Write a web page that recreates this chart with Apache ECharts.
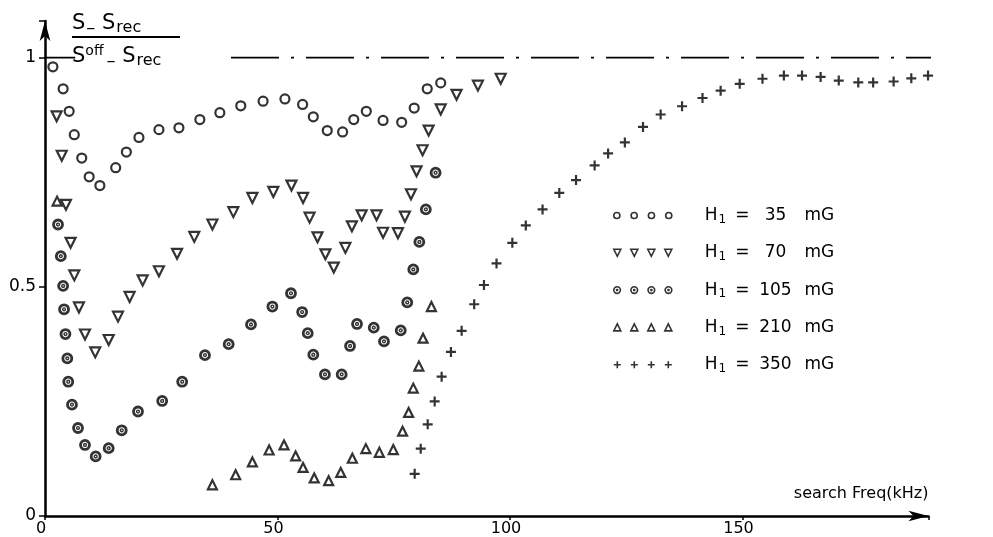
<!DOCTYPE html>
<html><head><meta charset="utf-8">
<script src="https://cdn.jsdelivr.net/npm/echarts@6/dist/echarts.min.js"></script>
<style>html,body{margin:0;padding:0;background:#fff}#c{width:993px;height:537px}</style>
</head><body><div id="c"></div>
<script>
// ---- data (search frequency kHz, normalised signal) ----
const xTickValues = [0, 50, 100, 150];
const yTickValues = [0, 0.5, 1];
const legendFields = ['35', '70', '105', '210', '350'];
const seriesNames = ['H1 = 35 mG', 'H1 = 70 mG', 'H1 = 105 mG', 'H1 = 210 mG', 'H1 = 350 mG'];

const h35 = [[1.7,0.98],[3.9,0.932],[5.2,0.883],[6.3,0.832],[7.9,0.781],[9.5,0.74],[11.8,0.721],[15.2,0.76],[17.5,0.794],[20.2,0.826],[24.5,0.843],[28.8,0.847],[33.3,0.865],[37.6,0.88],[42.1,0.895],[46.9,0.905],[51.6,0.91],[55.4,0.898],[57.7,0.871],[60.7,0.841],[64.0,0.838],[66.4,0.865],[69.1,0.883],[72.7,0.863],[76.7,0.859],[79.4,0.89],[82.2,0.932],[85.1,0.945]];

const h70 = [[2.5,0.872],[3.6,0.786],[4.5,0.679],[5.5,0.596],[6.3,0.525],[7.3,0.455],[8.6,0.396],[10.8,0.357],[13.7,0.384],[15.7,0.435],[18.2,0.478],[21.0,0.514],[24.5,0.534],[28.4,0.572],[32.1,0.609],[36.0,0.636],[40.5,0.663],[44.6,0.694],[49.1,0.707],[53.0,0.721],[55.5,0.694],[56.9,0.651],[58.6,0.608],[60.3,0.571],[62.1,0.542],[64.6,0.585],[66.0,0.632],[68.1,0.656],[71.3,0.656],[72.7,0.618],[75.9,0.617],[77.4,0.653],[78.7,0.702],[79.9,0.752],[81.2,0.798],[82.5,0.841],[85.1,0.887],[88.5,0.919],[93.1,0.939],[98.0,0.954]];

const h105 = [[2.8,0.636],[3.4,0.567],[3.9,0.502],[4.1,0.451],[4.4,0.397],[4.8,0.344],[5.0,0.293],[5.8,0.243],[7.1,0.192],[8.6,0.155],[10.9,0.13],[13.7,0.148],[16.5,0.187],[20.0,0.228],[25.2,0.251],[29.5,0.293],[34.4,0.351],[39.5,0.375],[44.3,0.418],[48.9,0.457],[52.9,0.486],[55.3,0.445],[56.5,0.399],[57.7,0.352],[60.2,0.309],[63.8,0.309],[65.6,0.371],[67.1,0.419],[70.7,0.411],[72.9,0.381],[76.5,0.405],[77.9,0.466],[79.2,0.538],[80.5,0.598],[81.9,0.669],[84.0,0.749]];

const h210 = [[2.6,0.687],[36.0,0.068],[41.0,0.09],[44.6,0.118],[48.2,0.144],[51.4,0.155],[53.9,0.131],[55.5,0.106],[57.9,0.083],[61.0,0.077],[63.6,0.095],[66.1,0.126],[69.0,0.147],[71.9,0.139],[74.9,0.145],[76.9,0.185],[78.2,0.226],[79.2,0.279],[80.4,0.327],[81.3,0.388],[83.1,0.457]];

const h350 = [[79.5,0.092],[80.8,0.147],[82.3,0.2],[83.8,0.25],[85.3,0.304],[87.3,0.358],[89.6,0.404],[92.3,0.462],[94.4,0.504],[97.1,0.551],[100.5,0.596],[103.4,0.634],[107.0,0.669],[110.6,0.705],[114.2,0.733],[118.2,0.765],[121.1,0.791],[124.7,0.815],[128.6,0.849],[132.4,0.876],[137.0,0.894],[141.4,0.912],[145.3,0.928],[149.4,0.943],[154.3,0.954],[158.9,0.961],[162.8,0.961],[166.8,0.958],[170.7,0.95],[174.9,0.946],[178.1,0.946],[182.5,0.948],[186.3,0.955],[189.9,0.961]];

const unityLine = [[40, 1], [191, 1]];
const unityTick = [[-1.5, 1], [6.5, 1]];

// ---- symbols ----
function circ(cx, cy, r) {
  return 'M' + cx + ',' + (cy - r) + 'A' + r + ',' + r + ' 0 1,1 ' + cx + ',' + (cy + r) + 'A' + r + ',' + r + ' 0 1,1 ' + cx + ',' + (cy - r) + 'Z';
}
const dotCircle = 'path://' + circ(10, 10, 10) + circ(10, 10, 1.6);
const plusSym = 'path://M0,5L10,5M5,0L5,10';
const cxs = [3.5, 20.5, 37.5, 54.5];
const legendIcons = [
  'path://' + cxs.map(c => circ(c, 3.5, 3)).join(''),
  'path://' + cxs.map(c => 'M' + (c - 3.5) + ',0L' + (c + 3.5) + ',0L' + c + ',7Z').join(''),
  'path://' + cxs.map(c => circ(c, 3.5, 3.3) + circ(c, 3.5, 0.6)).join(''),
  'path://' + cxs.map(c => 'M' + c + ',0L' + (c + 3.5) + ',7L' + (c - 3.5) + ',7Z').join(''),
  'path://' + cxs.map(c => 'M' + (c - 3.5) + ',3.5L' + (c + 3.5) + ',3.5M' + c + ',0L' + c + ',7').join('')
];

const font = 'DejaVu Sans';
const hollow = { color: '#fff', borderColor: '#000', borderWidth: 2.2 };

const chart = echarts.init(document.getElementById('c'), null, { renderer: 'canvas' });
chart.setOption({
  backgroundColor: '#fff',
  animation: false,
  grid: { left: 45, right: 64.5, top: 21, bottom: 19, containLabel: false },
  xAxis: {
    type: 'value', min: 0, max: 190, interval: 50,
    name: 'search Freq(kHz)', nameLocation: 'end', nameGap: 0,
    nameTextStyle: { fontFamily: font, fontSize: 16, color: '#000', align: 'right', verticalAlign: 'bottom', padding: [0, 0, 14, 0] },
    axisLine: { show: true, symbol: ['none', 'arrow'], symbolSize: [8, 20], lineStyle: { color: '#000', width: 2.5 } },
    axisTick: { show: true, length: 4, lineStyle: { color: '#000', width: 1.5 } },
    axisLabel: { fontFamily: font, fontSize: 16, color: '#000', margin: 5, padding: [0, 8, 0, 0],
      formatter: v => (xTickValues.indexOf(v) >= 0 ? String(v) : '') },
    splitLine: { show: false }
  },
  yAxis: {
    type: 'value', min: 0, max: 1.08, interval: 0.5,
    axisLine: { show: true, symbol: ['none', 'arrow'], symbolSize: [8, 20], lineStyle: { color: '#000', width: 2.5 } },
    axisTick: { show: true, length: 6, lineStyle: { color: '#000', width: 1.5 } },
    axisLabel: { fontFamily: font, fontSize: 17, color: '#000', margin: 9,
      formatter: v => (yTickValues.indexOf(v) >= 0 ? String(v) : '') },
    splitLine: { show: false }
  },
  legend: {
    orient: 'vertical', left: 613, top: 207, padding: 0,
    itemWidth: 58, itemHeight: 7, itemGap: 18.8,
    itemStyle: { borderWidth: 1.6 },
    data: seriesNames.map((n, i) => ({ name: n, icon: legendIcons[i] })),
    formatter: name => '{h|H}{s|1}{e|=}{n|' + legendFields[seriesNames.indexOf(name)] + '}{u|mG}',
    textStyle: {
      fontFamily: font, color: '#000', padding: [0, 0, 0, 28],
      rich: {
        h: { fontFamily: font, fontSize: 17, color: '#000', lineHeight: 20 },
        s: { fontFamily: font, fontSize: 12, color: '#000', verticalAlign: 'bottom', padding: [8, 0, 0, 1] },
        e: { fontFamily: font, fontSize: 17, color: '#000', padding: [0, 6, 0, 9] },
        n: { fontFamily: font, fontSize: 17, color: '#000', width: 40, align: 'right' },
        u: { fontFamily: font, fontSize: 17, color: '#000', padding: [0, 0, 0, 9] }
      }
    }
  },
  graphic: [
    { type: 'text', left: 72, top: 13, style: { text: '{a|S}{m|–}{a| S}{b|rec}', rich: {
      a: { fontFamily: font, fontSize: 21, fill: '#000' },
      m: { fontFamily: font, fontSize: 18, fill: '#000', padding: [9, 0, 0, 1] },
      b: { fontFamily: font, fontSize: 16, fill: '#000', padding: [9, 0, 0, 1] } } } },
    { type: 'line', shape: { x1: 72, y1: 37, x2: 180, y2: 37 }, style: { stroke: '#000', lineWidth: 2 } },
    { type: 'text', left: 72, top: 44, style: { text: '{a|S}{p|off}{m|–}{a| S}{b|rec}', rich: {
      a: { fontFamily: font, fontSize: 21, fill: '#000' },
      p: { fontFamily: font, fontSize: 14, fill: '#000', padding: [0, 2, 11, 0] },
      m: { fontFamily: font, fontSize: 18, fill: '#000', padding: [9, 0, 0, 1] },
      b: { fontFamily: font, fontSize: 16, fill: '#000', padding: [9, 0, 0, 1] } } } }
  ],
  series: [
    { name: seriesNames[0], type: 'scatter', data: h35, symbol: 'circle', symbolSize: 9, itemStyle: hollow },
    { name: seriesNames[1], type: 'scatter', data: h70, symbol: 'triangle', symbolRotate: 180, symbolSize: 10, itemStyle: hollow },
    { name: seriesNames[2], type: 'scatter', data: h105, symbol: dotCircle, symbolSize: 9, itemStyle: { color: '#fff', borderColor: '#000', borderWidth: 2.8 } },
    { name: seriesNames[3], type: 'scatter', data: h210, symbol: 'triangle', symbolSize: 9, itemStyle: hollow },
    { name: seriesNames[4], type: 'scatter', data: h350, symbol: plusSym, symbolSize: 10, itemStyle: { color: '#000', borderColor: '#000', borderWidth: 2.2 } },
    { type: 'line', data: unityLine, showSymbol: false, clip: false, silent: true,
      lineStyle: { color: '#000', width: 1.6, type: [48, 12, 3, 12] } },
    { type: 'line', data: unityTick, showSymbol: false, clip: false, silent: true,
      lineStyle: { color: '#000', width: 1.6 } }
  ]
});
</script>
</body></html>
